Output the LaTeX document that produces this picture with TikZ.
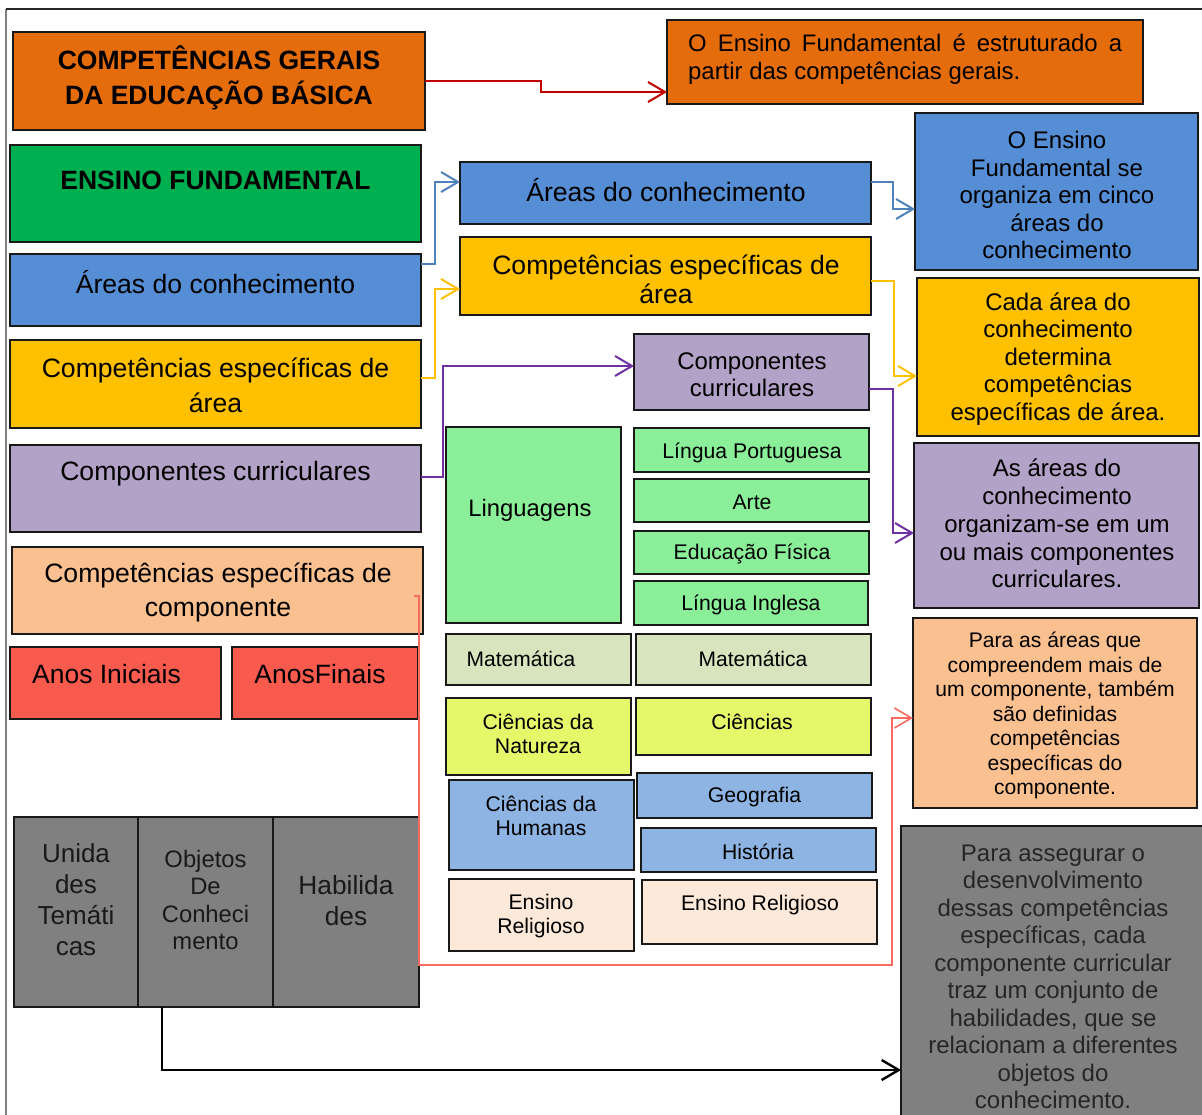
\documentclass[tikz,border=0pt]{standalone}
\usepackage{fontspec}
\setmainfont{Liberation Sans}
\usetikzlibrary{arrows.meta}
\definecolor{corange}{HTML}{E46C0A}
\definecolor{cgreen}{HTML}{00B050}
\definecolor{cblue}{HTML}{558ED5}
\definecolor{cyellow}{HTML}{FFC000}
\definecolor{cpurple}{HTML}{B2A2C7}
\definecolor{cpeach}{HTML}{FAC090}
\definecolor{cred}{HTML}{F95A4E}
\definecolor{clgreen}{HTML}{8AEF98}
\definecolor{cmat}{HTML}{D7E4BD}
\definecolor{cnat}{HTML}{E4F86A}
\definecolor{chum}{HTML}{8EB4E3}
\definecolor{crel}{HTML}{FDE9D9}
\definecolor{cgray}{HTML}{808080}
\definecolor{lred}{HTML}{C00000}
\definecolor{lblue}{HTML}{4F81BD}
\definecolor{lyellow}{HTML}{FFC000}
\definecolor{lpurple}{HTML}{7030A0}
\definecolor{lsalmon}{HTML}{F86A60}
\newcommand{\fsz}[2]{\fontsize{#1pt}{#2pt}\selectfont}
\newcommand{\bbox}[6]{\node[bxs, fill=#6, minimum width={#4-#2}, minimum height={#5-#3}] (#1) at ({(#2+#4)/2},{(#3+#5)/2}) {};}
\begin{document}
\begin{tikzpicture}[x=1pt,y=-1pt,
  bxs/.style={draw=black!90, line width=2.4pt, inner sep=0pt, outer sep=0pt},
  txt/.style={align=center, inner sep=0pt, text=black},
  con/.style={line width=2pt, -{Straight Barb[length=17pt,width=20pt]}},
]
\useasboundingbox (0,0) rectangle (1202,1115);
% frame
\draw[cgray, line width=2pt] (6,1115) -- (6,9);
\draw[black!85, line width=1.4pt] (6,9) -- (1202,9);

% left column
\bbox{cg}{13}{32}{425}{130}{corange}
\bbox{eft}{667}{20}{1143}{104}{corange}
\bbox{ef}{10}{145}{421}{242}{cgreen}
\bbox{arL}{10}{254}{421}{326}{cblue}
\bbox{ceaL}{10}{340}{421}{428}{cyellow}
\bbox{ccL}{10}{445}{421}{532}{cpurple}
\bbox{cecL}{12}{547}{423}{634}{cpeach}
\bbox{ai}{10}{647}{221}{719}{cred}
\bbox{af}{232}{647}{418}{719}{cred}

% middle
\bbox{arM}{460}{162}{871}{224}{cblue}
\bbox{ceaM}{460}{237}{871}{315}{cyellow}
\bbox{ccM}{634}{334}{869}{410}{cpurple}
\bbox{lin}{446}{427}{621}{623}{clgreen}
\bbox{lp}{634}{428}{869}{472}{clgreen}
\bbox{art}{634}{479}{869}{522}{clgreen}
\bbox{edf}{634}{531}{869}{574}{clgreen}
\bbox{li}{634}{581}{868}{625}{clgreen}
\bbox{matL}{446}{634}{631}{685}{cmat}
\bbox{matR}{636}{634}{871}{685}{cmat}
\bbox{cn}{446}{698}{631}{775}{cnat}
\bbox{cie}{636}{698}{871}{755}{cnat}
\bbox{ch}{449}{780}{634}{870}{chum}
\bbox{geo}{637}{773}{872}{818}{chum}
\bbox{his}{641}{828}{876}{872}{chum}
\bbox{erL}{449}{879}{634}{951}{crel}
\bbox{erR}{642}{880}{877}{944}{crel}

% right
\bbox{rblue}{915}{113}{1198}{270}{cblue}
\bbox{ryel}{917}{278}{1199}{436}{cyellow}
\bbox{rpur}{914}{443}{1199}{608}{cpurple}
\bbox{rpea}{913}{618}{1197}{808}{cpeach}
\bbox{rgray}{901}{826}{1220}{1140}{cgray}

% table
\bbox{tb1}{14}{817}{138}{1007}{cgray}
\bbox{tb2}{138}{817}{273}{1007}{cgray}
\bbox{tb3}{273}{817}{419}{1007}{cgray}

% texts
\node[txt, font=\bfseries\fsz{26.5}{35}] (cgT) at (219,77.5) {COMPETÊNCIAS GERAIS\\DA EDUCAÇÃO BÁSICA};
\node[txt, align=left, anchor=west, font=\fsz{23.9}{28}] (eftT) at (688,59) {\makebox[434pt][s]{O Ensino Fundamental é estruturado a}\\partir das competências gerais.};
\node[txt, font=\bfseries\fsz{26.5}{35}] (efT) at (215.5,180) {ENSINO FUNDAMENTAL};
\node[txt, font=\fsz{26.6}{35}] (arLT) at (215.5,282) {Áreas do conhecimento};
\node[txt, font=\fsz{26.6}{35}] (ceaLT) at (215.5,385.5) {Competências específicas de\\área};
\node[txt, font=\fsz{26.6}{35}] (ccLT) at (215.5,474) {Componentes curriculares};
\node[txt, font=\fsz{26.6}{34}] (cecLT) at (218,592) {Competências específicas de\\componente};
\node[txt, font=\fsz{26.5}{34}] (aiT) at (106.5,674) {Anos Iniciais};
\node[txt, font=\fsz{26.5}{34}] (afT) at (320,674) {AnosFinais};

\node[txt, font=\fsz{26.6}{35}] (arMT) at (666,190) {Áreas do conhecimento};
\node[txt, font=\fsz{26.6}{29}] (ceaMT) at (666,279.5) {Competências específicas de\\área};
\node[txt, font=\fsz{24}{27}] (ccMT) at (752,374.5) {Componentes\\curriculares};
\node[txt, font=\fsz{23.8}{27}] (linT) at (530,510) {Linguagens};
\node[txt, font=\fsz{21.2}{24}] (lpT) at (752,453) {Língua Portuguesa};
\node[txt, font=\fsz{21.2}{24}] (artT) at (752,502) {Arte};
\node[txt, font=\fsz{21.2}{24}] (edfT) at (752,554) {Educação Física};
\node[txt, font=\fsz{21.2}{24}] (liT) at (751,605) {Língua Inglesa};
\node[txt, font=\fsz{21}{24}] (matLT) at (521,659) {Matemática};
\node[txt, font=\fsz{21}{24}] (matRT) at (753,659) {Matemática};
\node[txt, font=\fsz{21.2}{24}] (cnT) at (538,734) {Ciências da\\Natureza};
\node[txt, font=\fsz{21.2}{24}] (cieT) at (752,722) {Ciências};
\node[txt, font=\fsz{21.2}{24}] (chT) at (541,816) {Ciências da\\Humanas};
\node[txt, font=\fsz{21.2}{24}] (geoT) at (754.5,797) {Geografia};
\node[txt, font=\fsz{21.2}{24}] (hisT) at (758,852) {História};
\node[txt, font=\fsz{21.2}{24}] (erLT) at (541,916) {Ensino\\Religioso};
\node[txt, font=\fsz{21.2}{24}] (erRT) at (760,905) {Ensino Religioso};

\node[txt, font=\fsz{24}{27.5}] (rblueT) at (1057,195) {O Ensino\\Fundamental se\\organiza em cinco\\áreas do\\conhecimento};
\node[txt, font=\fsz{24}{27.5}] (ryelT) at (1058,359) {Cada área do\\conhecimento\\determina\\competências\\específicas de área.};
\node[txt, font=\fsz{24}{27.8}] (rpurT) at (1057,523.5) {As áreas do\\conhecimento\\organizam-se em um\\ou mais componentes\\curriculares.};
\node[txt, font=\fsz{21.1}{24.5}] (rpeaT) at (1055,715.5) {Para as áreas que\\compreendem mais de\\um componente, também\\são definidas\\competências\\específicas do\\componente.};
\node[txt, text=black!85, font=\fsz{24}{27.5}] (rgrayT) at (1053,977) {Para assegurar o\\desenvolvimento\\dessas competências\\específicas, cada\\componente curricular\\traz um conjunto de\\habilidades, que se\\relacionam a diferentes\\objetos do\\conhecimento.};

\node[txt, text=black!90, font=\fsz{26}{31}] (tb1T) at (76,900) {Unida\\des\\Temáti\\cas};
\node[txt, text=black!90, font=\fsz{23.8}{27.5}] (tb2T) at (205.5,900) {Objetos\\De\\Conheci\\mento};
\node[txt, text=black!90, font=\fsz{26.3}{31}] (tb3T) at (346,900.5) {Habilida\\des};

% connectors
\draw[con, lred] (cg.east) -| (541,92) -- (eft.west |- 0,92);
\draw[con, lblue] (arL.east |- 0,264) -| (435,182) -- (arM.west |- 0,182);
\draw[con, lblue] (arM.east |- 0,182) -| (893,209) -- (rblue.west |- 0,209);
\draw[con, lyellow] (ceaL.east |- 0,378) -| (435,289) -- (ceaM.west |- 0,289);
\draw[con, lyellow] (ceaM.east |- 0,281) -| (894,376) -- (ryel.west |- 0,376);
\draw[con, lpurple] (ccL.east |- 0,477) -| (443,366) -- (ccM.west |- 0,366);
\draw[con, lpurple] (ccM.east |- 0,389) -| (893,533) -- (rpur.west |- 0,533);
\coordinate (s1) at (414,596);
\draw[con, lsalmon, line width=1.6pt] (s1) -- (419,596) -- (419,965) -| (892,718) -- (rpea.west |- 0,718);
\draw[con, black, line width=2.4pt] (tb2.south -| 162,0) |- (rgray.west |- 0,1070);
\end{tikzpicture}
\end{document}
